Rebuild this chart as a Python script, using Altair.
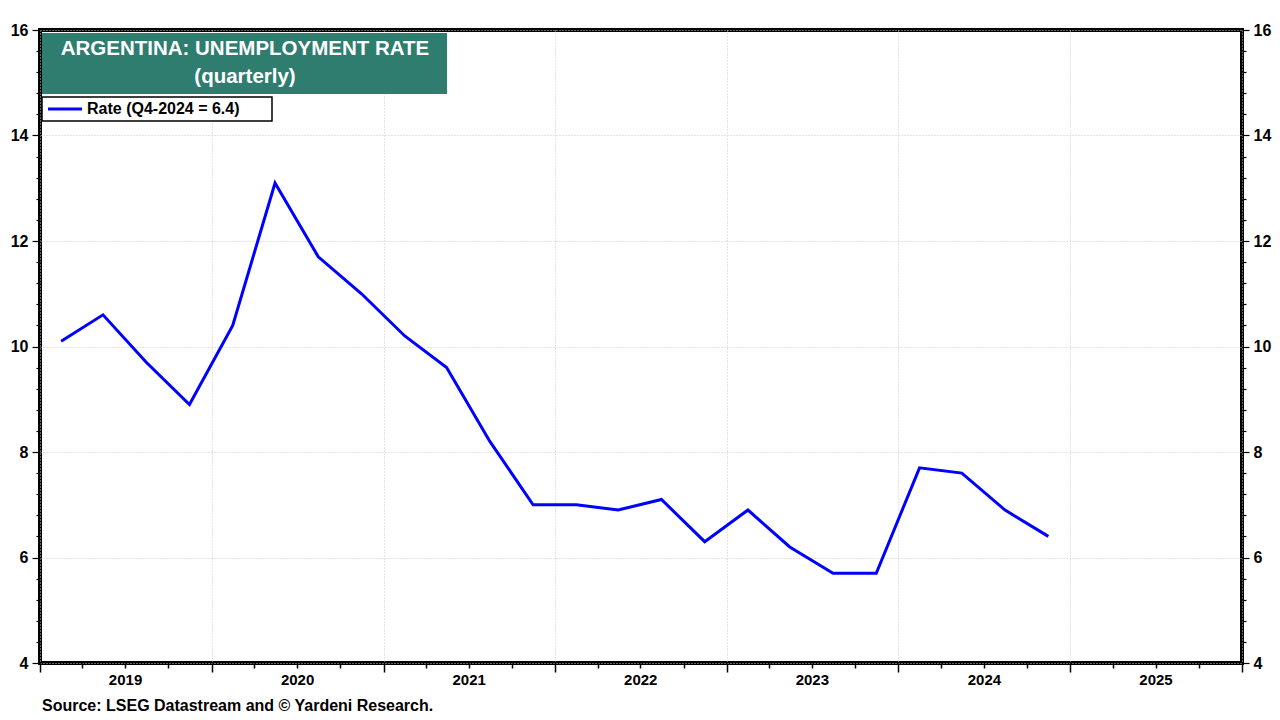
import altair as alt
import pandas as pd

# ---- data ----
years = [2019, 2019, 2019, 2019, 2020, 2020, 2020, 2020, 2021, 2021, 2021, 2021,
         2022, 2022, 2022, 2022, 2023, 2023, 2023, 2023, 2024, 2024, 2024, 2024]
quarters = [1, 2, 3, 4] * 6
rates = [10.1, 10.6, 9.7, 8.9, 10.4, 13.1, 11.7, 11.0, 10.2, 9.6, 8.2, 7.0,
         7.0, 6.9, 7.1, 6.3, 6.9, 6.2, 5.7, 5.7, 7.7, 7.6, 6.9, 6.4]
year_labels = [2019, 2020, 2021, 2022, 2023, 2024, 2025]

mid_month = {1: "02", 2: "05", 3: "08", 4: "11"}
df = pd.DataFrame({
    "date": [f"{y}-{mid_month[q]}-15" for y, q in zip(years, quarters)],
    "rate": rates,
})
ylab = pd.DataFrame({"mid": [f"{y}-07-02" for y in year_labels],
                     "label": [str(y) for y in year_labels]})

FONT = "Arial, Liberation Sans, sans-serif"
W, H = 1202, 633
TEAL = "#2E7D6F"

is_year = "utcmonth(datum.value) == 0"
x_ticks = [alt.DateTime(year=y, month=m, date=1, utc=True)
           for y in range(2019, 2026) for m in (1, 4, 7, 10)] + \
          [alt.DateTime(year=2026, month=1, date=1, utc=True)]
x_scale = alt.Scale(type="utc",
                    domain=[alt.DateTime(year=2019, month=1, date=1, utc=True),
                            alt.DateTime(year=2026, month=1, date=1, utc=True)])
x_axis = alt.Axis(values=x_ticks, labels=False, title=None, domain=False,
                  tickColor="black", tickWidth=1.5,
                  tickSize={"condition": {"test": is_year, "value": 9}, "value": 5},
                  grid=True, gridColor="#c8c8c8", gridDash=[1, 2],
                  gridOpacity={"condition": {"test": is_year, "value": 1}, "value": 0})

y_vals = [round(4 + 0.4 * i, 1) for i in range(31)]
is_major = "abs(datum.value/2 - round(datum.value/2)) < 0.01"


def y_axis(orient, grid, major_size, pad):
    return alt.Axis(values=y_vals, orient=orient, title=None, domain=False,
                    format=".0f",
                    labelExpr=f"({is_major}) ? format(datum.value, '.0f') : ''",
                    labelOverlap=False, labelFont=FONT, labelFontSize=16,
                    labelFontWeight="bold", labelColor="black", labelPadding=pad,
                    tickColor="black", tickWidth=1.2,
                    tickSize={"condition": {"test": is_major, "value": major_size}, "value": 4},
                    grid=grid, gridColor="#c8c8c8", gridDash=[1, 2],
                    gridOpacity={"condition": {"test": is_major, "value": 1}, "value": 0})


y_scale = alt.Scale(domain=[4, 16], nice=False, zero=False)

line = alt.Chart(df).mark_line(color="#0000FF", strokeWidth=3).encode(
    x=alt.X("date:T", scale=x_scale, axis=x_axis),
    y=alt.Y("rate:Q", scale=y_scale, axis=y_axis("left", True, 8, 4)),
)
right = alt.Chart(df).mark_line(opacity=0).encode(
    x=alt.X("date:T", scale=x_scale, axis=x_axis),
    y=alt.Y("rate:Q", scale=y_scale, axis=y_axis("right", False, 7, 4)),
)

year_text = alt.Chart(ylab).mark_text(font=FONT, fontSize=15, fontWeight="bold",
                                      color="black", baseline="middle").encode(
    x=alt.X("mid:T", scale=x_scale, axis=x_axis),
    y=alt.value(H + 17),
    text="label:N",
)

one = alt.Data(values=[{}])
title_box = alt.Chart(one).mark_rect(color=TEAL).encode(
    x=alt.value(2), x2=alt.value(407), y=alt.value(3), y2=alt.value(64))
title1 = alt.Chart(one).mark_text(font=FONT, fontSize=20.5, fontWeight="bold",
                                  color="white", baseline="middle").encode(
    x=alt.value(205), y=alt.value(19), text=alt.value("ARGENTINA: UNEMPLOYMENT RATE"))
title2 = alt.Chart(one).mark_text(font=FONT, fontSize=20.5, fontWeight="bold",
                                  color="white", baseline="middle").encode(
    x=alt.value(205), y=alt.value(47), text=alt.value("(quarterly)"))

legend_box = alt.Chart(one).mark_rect(fill="white", stroke="black", strokeWidth=1.5).encode(
    x=alt.value(2), x2=alt.value(232), y=alt.value(67), y2=alt.value(91))
legend_line = alt.Chart(one).mark_rule(color="#0000FF", strokeWidth=3).encode(
    x=alt.value(8), x2=alt.value(42), y=alt.value(79))
legend_text = alt.Chart(one).mark_text(font=FONT, fontSize=16, fontWeight="bold",
                                       color="black", align="left", baseline="middle").encode(
    x=alt.value(47), y=alt.value(79), text=alt.value("Rate (Q4-2024 = 6.4)"))

source = alt.Chart(one).mark_text(font=FONT, fontSize=16, fontWeight="bold",
                                  color="black", align="left", baseline="middle").encode(
    x=alt.value(2), y=alt.value(H + 43),
    text=alt.value("Source: LSEG Datastream and \u00a9 Yardeni Research."))

chart = alt.layer(
    line, right, year_text, title_box, title1, title2,
    legend_box, legend_line, legend_text, source,
).resolve_scale(y="independent").resolve_axis(y="independent").properties(
    width=W, height=H,
    autosize=alt.AutoSizeParams(type="none"),
    padding={"left": 32, "top": 22, "right": 30, "bottom": 52},
).configure(
    background="white",
    view=alt.ViewConfig(stroke="black", strokeWidth=4),
)

chart.save("out.html", embed_options={"renderer": "svg", "actions": False})
